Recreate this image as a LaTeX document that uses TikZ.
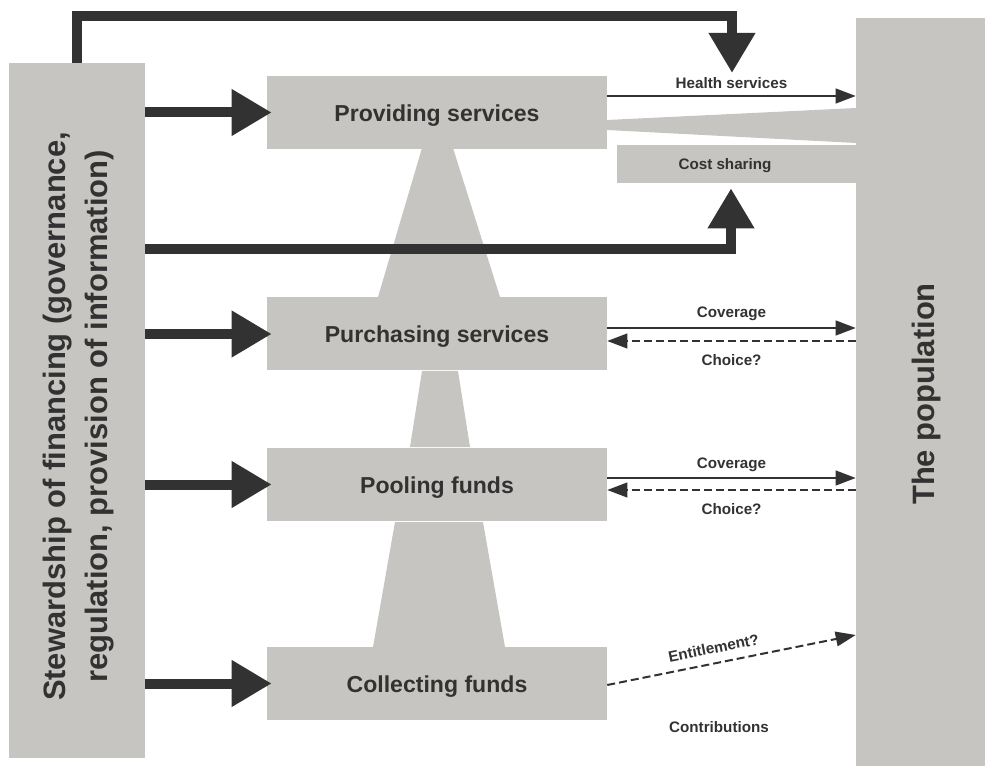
\documentclass[tikz,border=0pt]{standalone}
\usepackage{fontspec}
\setmainfont{Liberation Sans}
\usetikzlibrary{arrows.meta}
\definecolor{boxgray}{HTML}{C6C5C1}
\definecolor{inkgray}{HTML}{323232}

\begin{document}
\begin{tikzpicture}
      [x=0.75pt, y=-0.75pt,
      box style/.style={rectangle, fill=boxgray, draw=none, inner sep=0pt},
      func style/.style={box style, minimum width=255pt, minimum height=54.75pt, text height=14pt, text depth=1pt, text=inkgray, font=\fontsize{17.3}{20}\selectfont\bfseries},
      big text/.style={rotate=90, align=center, text=inkgray, inner sep=0pt, font=\fontsize{23.2}{32}\selectfont\bfseries},
      small text/.style={text=inkgray, inner sep=1pt, font=\fontsize{11.4}{13}\selectfont\bfseries},
      thick arrow/.style={draw=inkgray, line width=7.5pt, -{Triangle[length=30pt, width=33pt]}},
      thin arrow/.style={draw=inkgray, line width=1.5pt, -{Triangle[length=15pt, width=11pt]}},
      back arrow/.style={thin arrow, dash pattern=on 6pt off 3pt}
      ]

      \useasboundingbox (0,0) rectangle (985,766);

      % funnels and wedge
      \fill[boxgray] (422,148) -- (453,148) -- (500,297) -- (378,297) -- cycle;
      \fill[boxgray] (422,371) -- (458,371) -- (470,447) -- (410,447) -- cycle;
      \fill[boxgray] (395,522) -- (483,522) -- (505,647) -- (373,647) -- cycle;
      \fill[boxgray] (607,120) -- (856,108) -- (856,143) -- (607,130) -- cycle;

      \node[box style, minimum width=102pt, minimum height=521.25pt] (steward) at (77,410.5) {};
      \node[box style, minimum width=96.75pt, minimum height=561pt] (population) at (920.5,392) {};
      \node[big text] (stewardlabel) at (78.5,416.5) {Stewardship of financing (governance,\\regulation, provision of information)};
      \node[big text] (poplabel) at (926,394) {The population};

      \node[func style] (providing) at (437,112.5) {Providing services};
      \node[func style] (purchasing) at (437,334) {Purchasing services};
      \node[func style] (pooling) at (437,484.5) {Pooling funds};
      \node[func style] (collecting) at (437,683.5) {Collecting funds};

      \node[box style, minimum width=179.25pt, minimum height=28.5pt] (costbox) at (736.5,164) {};
      \node[small text] (costlabel) at (725,166) {Cost sharing};

      \draw[thick arrow] (steward.east |- providing) -- ([xshift=3.75pt]providing.west);
      \draw[thick arrow] (steward.east |- purchasing) -- ([xshift=3.75pt]purchasing.west);
      \draw[thick arrow] (steward.east |- pooling) -- ([xshift=3.75pt]pooling.west);
      \draw[thick arrow] (steward.east |- collecting) -- ([xshift=3.75pt]collecting.west);

      \coordinate (topturn) at (732,16);
      \coordinate (topstop) at (732,73);
      \draw[thick arrow] (steward.north) |- (topturn) -- (topstop);
      \coordinate (costturn) at (731,249);
      \draw[thick arrow] (steward.east |- costturn) -- (costturn) -- ([yshift=-3.75pt]costbox.south -| costturn);

      \draw[thin arrow] (providing.east |- 0,96) -- node[small text, above=3.5pt] (hslabel) {Health services} (population.west |- 0,96);

      \draw[thin arrow] (purchasing.east |- 0,328) -- node[small text, above=3.5pt] (covlabela) {Coverage} (population.west |- 0,328);
      \draw[back arrow] (population.west |- 0,341) -- node[small text, below=8.5pt] (choicelabela) {Choice?} (purchasing.east |- 0,341);

      \draw[thin arrow] (pooling.east |- 0,478) -- node[small text, above=3pt] (covlabelb) {Coverage} (population.west |- 0,478);
      \draw[back arrow] (population.west |- 0,490) -- node[small text, below=8.5pt] (choicelabelb) {Choice?} (pooling.east |- 0,490);

      \draw[back arrow] (collecting.east |- 0,685) -- node[small text, sloped, above=5.5pt, pos=0.44] (entlabel) {Entitlement?} (population.west |- 0,635);
      \node[small text] (contriblabel) at (719,727) {Contributions};
    \end{tikzpicture}
\end{document}
